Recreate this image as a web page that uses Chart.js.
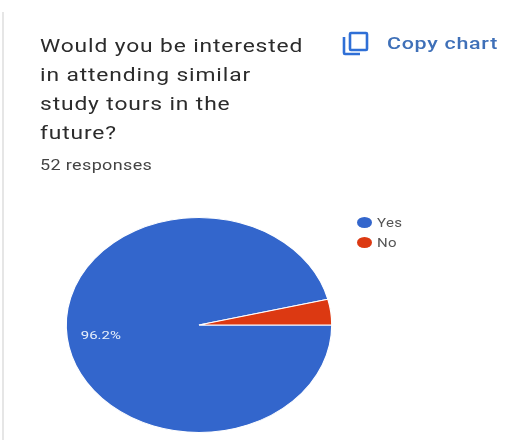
<!DOCTYPE html>
<html>
<head>
<meta charset="utf-8">
<script src="https://cdn.jsdelivr.net/npm/chart.js@4/dist/chart.umd.min.js"></script>
<style>
  html, body { margin: 0; padding: 0; background: #fff; }
  body { width: 514px; height: 440px; position: relative; overflow: hidden; font-family: Roboto, sans-serif; }
  #page { position: absolute; left: 0; top: 0; width: 514px; height: 440px; filter: blur(0.45px); }
  #chart { position: absolute; left: 0; top: 0; }
  .rule { position: absolute; left: 2px; top: 12px; width: 2px; height: 428px; background: #e6e6e6; }
  /* the reference text is stretched sideways like the pie */
  .title, .count, .copy, .legend span { transform-origin: 0 0; }
  .title { position: absolute; left: 40px; top: 31px; font-size: 19px; line-height: 29px; letter-spacing: 0.72px; color: #2b2b2b; white-space: pre; transform: scaleX(1.2); }
  .count { position: absolute; left: 40px; top: 157px; font-size: 14.5px; line-height: 18px; letter-spacing: 0.3px; color: #444; transform: scaleX(1.24); }
  .copy { position: absolute; left: 387px; top: 33px; font-size: 16.5px; line-height: 21px; letter-spacing: 0.55px; font-weight: 500; color: #3f70b8; transform: scaleX(1.3); white-space: nowrap; }
  .icon { position: absolute; left: 342px; top: 31px; }
  .legend { position: absolute; left: 357px; top: 213px; font-size: 12px; color: #555; }
  .legend div { position: absolute; left: 0; height: 20px; line-height: 20px; white-space: nowrap; }
  .legend i { position: absolute; left: 0; top: 4px; width: 15px; height: 11px; border-radius: 50%; }
  .legend span { position: absolute; left: 20px; letter-spacing: 0.3px; transform: scaleX(1.25); }
</style>
</head>
<body>
<div id="page">
<div class="rule"></div>
<canvas id="chart" width="514" height="440"></canvas>
<div class="title" id="title"></div>
<div class="count" id="count"></div>
<svg class="icon" width="28" height="26" viewBox="0 0 28 26" fill="none" stroke="#2f6fd6" stroke-width="2.6">
  <rect x="8" y="2" width="17" height="17" rx="1"></rect>
  <path d="M2 6 V22 a1 1 0 0 0 1 1 H18"></path>
</svg>
<div class="copy">Copy chart</div>
<div class="legend" id="legend"></div>
</div>
<script>
const questionLines = ['Would you be interested', 'in attending similar', 'study tours in the', 'future?']
const responseCount = '52 responses'
const categories = ['Yes', 'No']
const responses = [50, 2]
const sliceColors = ['#3366cc', '#dc3912']

document.getElementById('title').textContent = questionLines.join('\n')
document.getElementById('count').textContent = responseCount

const legendEl = document.getElementById('legend')
categories.forEach((name, i) => {
  const row = document.createElement('div')
  row.style.top = (i * 20) + 'px'
  row.innerHTML = `<i style="background:${sliceColors[i]}"></i><span>${name}</span>`
  legendEl.appendChild(row)
})

// the original pie is stretched sideways, so widen it around its centre
const stretchX = 1.235

const stretchPie = {
  id: 'stretchPie',
  beforeDatasetsDraw(chart) {
    const arc = chart.getDatasetMeta(0).data[0]
    const ctx = chart.ctx
    ctx.save()
    ctx.translate(arc.x, arc.y)
    ctx.scale(stretchX, 1)
    ctx.translate(-arc.x, -arc.y)
  },
  afterDatasetsDraw(chart) {
    chart.ctx.restore()
  }
}

// percent label, only on slices big enough to hold it
const sliceLabels = {
  id: 'sliceLabels',
  afterDraw(chart) {
    const ctx = chart.ctx
    const total = responses.reduce((a, b) => a + b, 0)
    chart.getDatasetMeta(0).data.forEach((arc, i) => {
      const share = responses[i] / total
      if (share < 0.1) return
      const mid = (arc.startAngle + arc.endAngle) / 2
      const r = arc.outerRadius * 0.745
      ctx.save()
      ctx.translate(arc.x + Math.cos(mid) * r * stretchX, arc.y + Math.sin(mid) * r + 1.5)
      ctx.scale(1.3, 1)
      ctx.fillStyle = '#e8f0fb'
      ctx.font = '11.5px Roboto, sans-serif'
      ctx.textAlign = 'center'
      ctx.textBaseline = 'middle'
      ctx.fillText((share * 100).toFixed(1) + '%', 0, 0)
      ctx.restore()
    })
  }
}

new Chart(document.getElementById('chart'), {
  type: 'pie',
  data: {
    labels: categories,
    datasets: [{
      data: responses,
      backgroundColor: sliceColors,
      borderColor: '#ffffff',
      borderWidth: 1
    }]
  },
  options: {
    responsive: false,
    animation: false,
    rotation: 90,
    layout: { padding: { left: 91, right: 207, top: 217, bottom: 7 } },
    plugins: { legend: { display: false }, tooltip: { enabled: false } }
  },
  plugins: [stretchPie, sliceLabels]
})
</script>
</body>
</html>
